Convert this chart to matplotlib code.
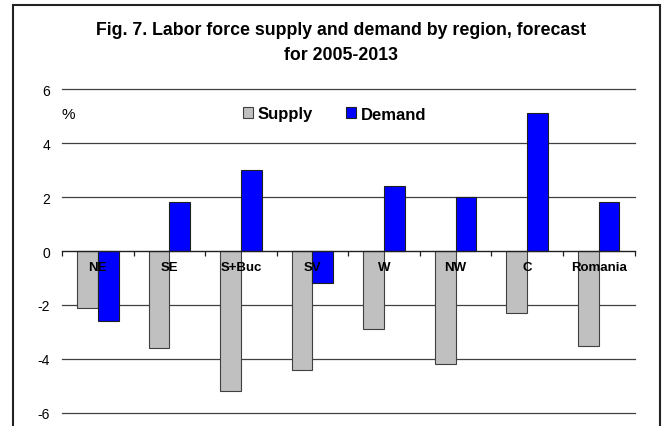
import matplotlib
matplotlib.use("Agg")
import matplotlib.pyplot as plt
import numpy as np
from matplotlib.patches import Rectangle

plt.rcParams['font.family'] = ['Liberation Sans', 'DejaVu Sans']

regions = ["NE", "SE", "S+Buc", "SV", "W", "NW", "C", "Romania"]
supply = [-2.1, -3.6, -5.2, -4.4, -2.9, -4.2, -2.3, -3.5]
demand = [-2.6, 1.8, 3.0, -1.2, 2.4, 2.0, 5.1, 1.8]
yticks = [-6, -4, -2, 0, 2, 4, 6]
title = "Fig. 7. Labor force supply and demand by region, forecast\nfor 2005-2013"

W, H = 669, 427
fig = plt.figure(figsize=(W / 100, H / 100), dpi=100)

# outer frame
fig.patches.append(Rectangle((12.5 / W, -0.05), (660 - 12.5) / W, 1.05 - 6 / H,
                             transform=fig.transFigure, fill=False,
                             edgecolor='#222222', linewidth=1.5))

ax = fig.add_axes([62 / W, 1 - 414 / H, (634.5 - 62) / W, (414 - 90) / H])
x = np.arange(len(regions))
bw = 0.29
b1 = ax.bar(x - bw / 2, supply, bw, color='#C0C0C0', edgecolor='#404040',
            linewidth=0.8, zorder=1, label='Supply')
b2 = ax.bar(x + bw / 2, demand, bw, color='#0000FF', edgecolor='#202020',
            linewidth=0.8, zorder=1, label='Demand')

ax.set_xlim(-0.5, len(regions) - 0.5)
ax.set_ylim(-6, 6)
for yv in yticks:
    if yv != 0:
        ax.axhline(yv, color='#404040', linewidth=0.9, zorder=0.5, clip_on=False)

for s in ['top', 'right', 'left']:
    ax.spines[s].set_visible(False)
ax.spines['bottom'].set_position(('data', 0))
ax.spines['bottom'].set_color('#202020')
ax.spines['bottom'].set_linewidth(1.0)
ax.set_axisbelow(False)

ax.set_yticks(yticks)
ax.set_yticklabels([str(v) for v in yticks], fontsize=10)
ax.tick_params(axis='y', length=0, pad=8.5)

ax.set_xticks(np.arange(len(regions) + 1) - 0.5)
ax.set_xticklabels([])
ax.tick_params(axis='x', which='major', direction='out', length=3.5,
               width=0.9, color='#202020')
ax.set_xticks(x, minor=True)
ax.set_xticklabels(regions, minor=True, fontsize=9.5, fontweight='bold')
ax.tick_params(axis='x', which='minor', length=0, pad=7)

leg = fig.legend(handles=[b1, b2], labels=['Supply', 'Demand'], ncol=2,
                 loc='center left', bbox_to_anchor=(243 / W, 1 - 115 / H),
                 frameon=False, prop={'weight': 'bold', 'size': 12},
                 handlelength=0.6, handleheight=0.6, handletextpad=0.3,
                 columnspacing=1.95, borderpad=0, borderaxespad=0)

fig.text(68 / W, 1 - 115 / H, '%', fontsize=11, ha='center', va='center')
fig.text(341 / W, 1 - 43 / H, title, fontsize=12.8, fontweight='bold',
         ha='center', va='center', linespacing=1.6)

fig.savefig('out.png', dpi=100)
